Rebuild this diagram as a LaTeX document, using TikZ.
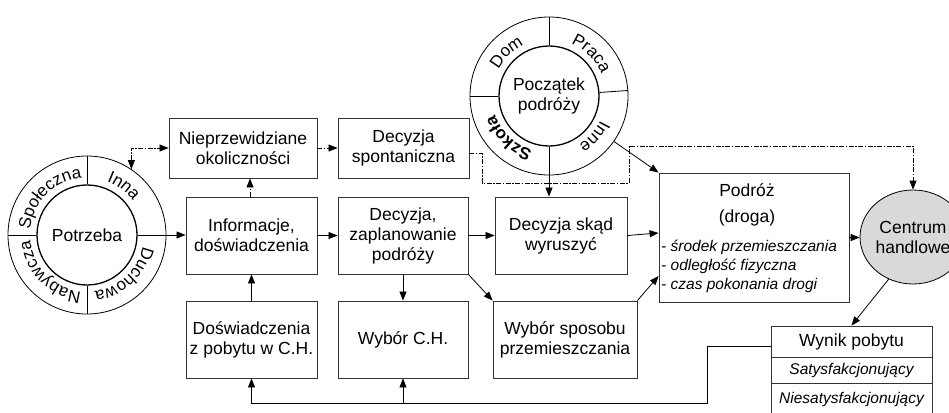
\documentclass[tikz,border=0pt]{standalone}
\usepackage{fontspec}
\setmainfont{Liberation Sans}
\usetikzlibrary{arrows.meta,shapes.geometric}

\newcommand\bfs{\fontsize{17.5}{20}\selectfont}
\newcommand\lfs{\fontsize{15.5}{19}\selectfont\itshape}
\newcommand\rfs{\fontsize{17}{17}\selectfont}
% #1 font, #2 cx, #3 cy, #4 visual centre angle, #5 radius, #6 list char/width (1/1000 em, 17pt)
\newcommand\arctext[6]{%
  \xdef\atot{0}%
  \foreach \ch/\w in {#6}{\pgfmathsetmacro\tmpa{\atot+\w}\xdef\atot{\tmpa}}%
  \xdef\acum{0}%
  \foreach \ch/\w in {#6}{%
    \pgfmathsetmacro\ang{#4-((\acum+0.5*\w-0.5*\atot)*0.017/#5)*180/pi}%
    \pgfmathsetmacro\tang{-1*(\ang)}%
    \pgfmathsetmacro\rot{\ang-90}%
    \node[inner sep=0pt, anchor=base, rotate=\rot, font=#1] at ([shift={(\tang:#5)}]#2,#3) {\ch};
    \pgfmathsetmacro\tmpb{\acum+\w}\xdef\acum{\tmpb}}%
}

\begin{document}
\begin{tikzpicture}[x=1pt,y=-1pt,
  >={Triangle[length=9pt,width=7pt]},
  box/.style={draw=black!80, line width=0.9pt, inner sep=0pt, align=center, font=\bfs},
  ln/.style={line width=0.8pt},
  dsh/.style={dash pattern=on 5pt off 1.5pt on 1.5pt off 1.5pt, line width=0.8pt},
  ringc/.style={circle, draw, line width=0.8pt, inner sep=0pt},
  core/.style={circle, draw, line width=1.3pt, inner sep=0pt, align=center, font=\bfs, minimum size=100pt}
]
\useasboundingbox (0,0) rectangle (949,412);
\clip (0,0) rectangle (949,412);

% Potrzeba
\node[ringc, minimum size=158pt] (potring) at (87,235) {};
\node[core] (pot) at (87,235) {Potrzeba};
\draw[ln] (pot.north) -- (potring.north);
\draw[ln] (pot.west) -- (potring.west);
\draw[ln] (pot.south) -- (potring.south);
\arctext{\rfs}{87}{235}{135}{57}{S/667,p/556,o/556,ł/222,e/556,c/500,z/500,n/556,a/556}
\arctext{\rfs}{87}{235}{53}{57}{I/278,n/556,n/556,a/556}
\arctext{\rfs}{87}{235}{-47}{57}{D/722,u/556,c/500,h/556,o/556,w/722,a/556}
\arctext{\rfs}{87}{235}{-135}{57}{N/722,a/556,b/556,y/500,w/722,c/500,z/500,a/556}

% Poczatek podrozy
\node[ringc, minimum size=158pt] (startring) at (549,96) {};
\node[core] (start) at (549,96) {Początek\\podróży};
\draw[ln] (start.north) -- (startring.north);
\draw[ln] (start.west) -- (startring.west);
\draw[ln] (start.4) -- (startring.4);
\arctext{\rfs}{549}{96}{134}{57}{D/722,o/556,m/833}
\arctext{\rfs}{549}{96}{45}{57}{P/667,r/333,a/556,c/500,a/556}
\arctext{\rfs}{549}{96}{-42}{57}{I/278,n/556,n/556,e/556}
\arctext{\rfs\bfseries}{549}{96}{-134}{57}{S/667,z/500,k/556,o/611,ł/278,a/556}

% boxes
\node[box, minimum width=148pt, minimum height=60pt] (niep) at (243,148) {Nieprzewidziane\\okoliczności};
\node[box, minimum width=131pt, minimum height=60pt] (spont) at (403.5,148) {Decyzja\\spontaniczna};
\node[box, minimum width=131pt, minimum height=77pt] (info) at (251.5,235.5) {Informacje,\\doświadczenia};
\node[box, minimum width=130pt, minimum height=77pt] (plan) at (403,235.5) {Decyzja,\\zaplanowanie\\podróży};
\node[box, minimum width=132pt, minimum height=77pt] (skad) at (561,235.5) {Decyzja skąd\\wyruszyć};
\node[box, minimum width=131pt, minimum height=77pt] (dosw) at (251.5,339.5) {Doświadczenia\\z pobytu w C.H.};
\node[box, minimum width=130pt, minimum height=77pt] (wybch) at (403,339.5) {Wybór C.H.};
\node[box, minimum width=144pt, minimum height=77pt] (sposob) at (565,339.5) {Wybór sposobu\\przemieszczania};

% Podroz
\node[box, minimum width=190pt, minimum height=129pt] (podroz) at (754,237.5) {};
\node[font=\bfs, inner sep=0pt] (podt) at (747,190) {Podróż};
\node[font=\bfs, inner sep=0pt] (podd) at (747,218) {(droga)};
\node[font=\lfs, align=left, anchor=west, inner sep=0pt] (podl) at (661,266)
  {- środek przemieszczania\\- odległość fizyczna\\- czas pokonania drogi};

% Centrum handlowe
\node[ellipse, draw, fill=gray!30, line width=0.8pt, minimum width=88pt, minimum height=94pt,
  inner sep=0pt, align=center, font=\bfs] (cent) at (913,237) {Centrum\\handlowe};

% Wynik pobytu
\node[box, minimum width=161pt, minimum height=31pt] (wyn) at (851.5,341.5) {Wynik pobytu};
\node[box, minimum width=161pt, minimum height=26pt, font=\lfs] (sat) at (851.5,370) {Satysfakcjonujący};
\node[box, minimum width=161pt, minimum height=32pt, font=\lfs] (nies) at (851.5,399) {Niesatysfakcjonujący};

% connectors
\draw[ln,->] (pot.east) -- (pot.east -| info.west);
\draw[dsh,<->] (potring.56) |- (niep.west);
\draw[dsh,->] (niep.east) -- (spont.west);
\coordinate (d4) at (250,0);
\draw[dsh,->] (info.north -| d4) -- (niep.south -| d4);
\coordinate (s1) at (482,183);
\coordinate (s2) at (629,146);
\draw[dsh,->] ([yshift=-5pt]spont.east) -| (s1) -| (s2) -| (cent.north);
\draw[ln,->] (start.south) -- (start.south |- skad.north);
\draw[ln,->] (startring.-35) -- (podroz.north west);
\draw[ln,->] (info.east) -- (plan.west);
\draw[ln,->] (plan.east) -- (skad.west);
\draw[ln,->] (skad.east) -- ([yshift=4.5pt]podroz.west);
\draw[ln,->] (sposob.north east) -- ([yshift=-38.5pt]podroz.west);
\draw[ln,->] (podroz.east) -- (podroz.east -| cent.west);
\draw[ln,->] (plan.south) -- (wybch.north);
\draw[ln,->] (plan.south east) -- (sposob.north west);
\draw[ln,->] (dosw.north) -- (info.south);
\draw[ln,->] (cent.240) -- (wyn.north);
\coordinate (fb) at (707,403);
\draw[ln,->] ([yshift=-4.5pt]wyn.west) -| (fb) -| (dosw.south);
\draw[ln,->] (fb -| wybch.south) -- (wybch.south);
\end{tikzpicture}
\end{document}
